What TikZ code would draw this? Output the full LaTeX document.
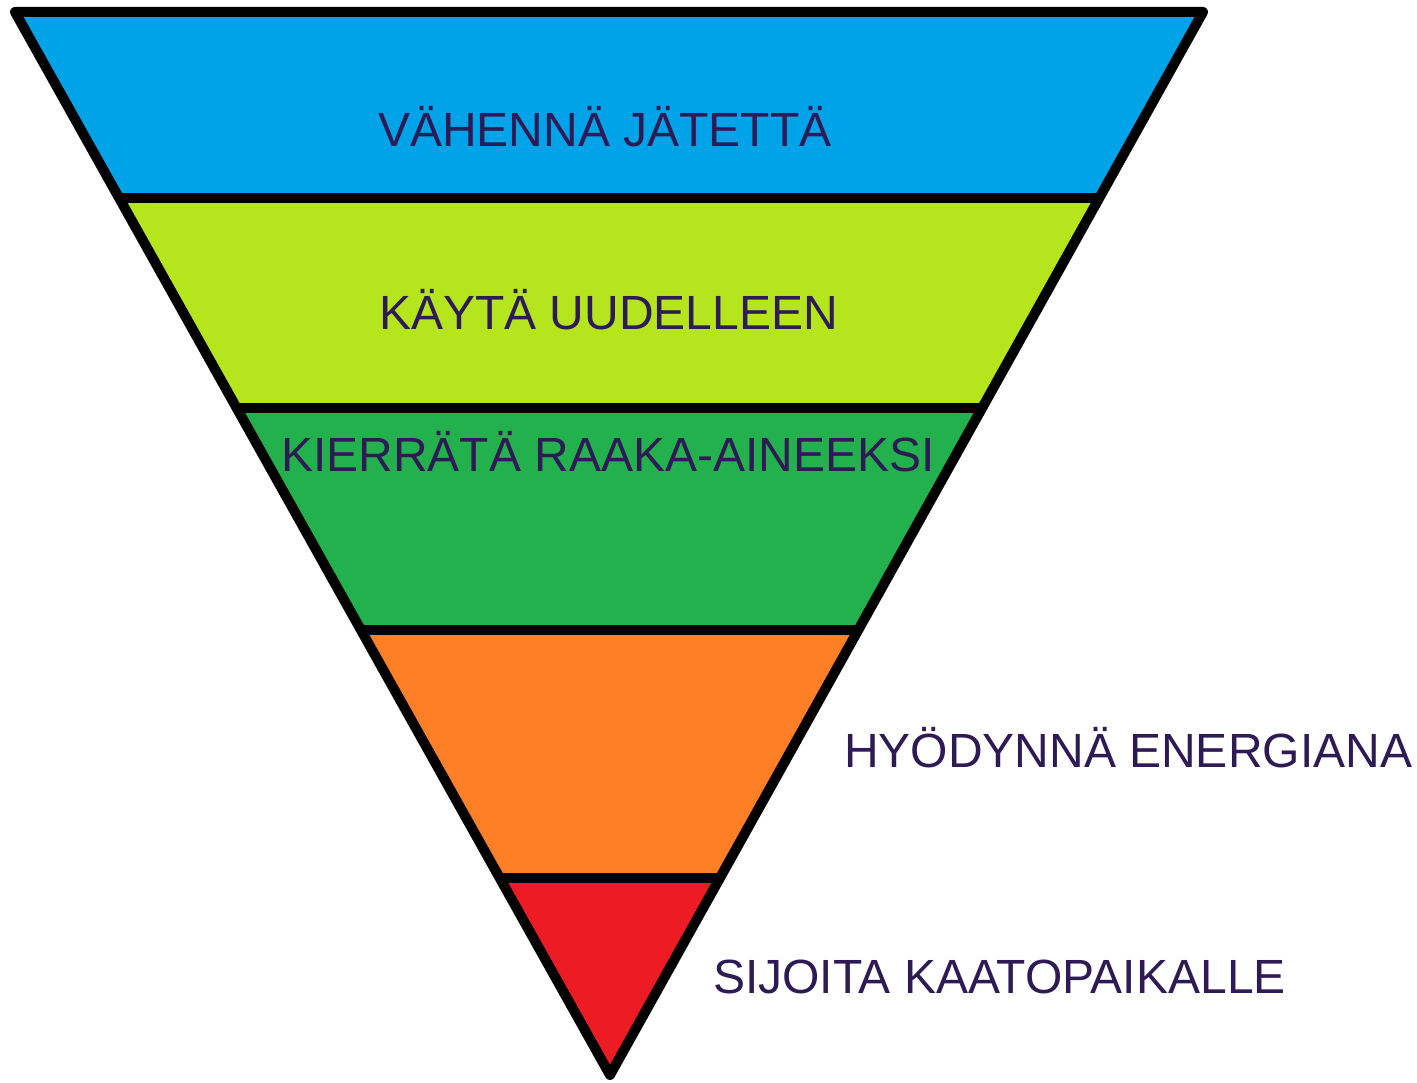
\documentclass[tikz,border=0pt]{standalone}
\usepackage{fontspec}
\setmainfont{Liberation Sans}
\usetikzlibrary{calc}

\definecolor{bandblue}{RGB}{0,162,232}
\definecolor{bandlime}{RGB}{181,230,29}
\definecolor{bandgreen}{RGB}{34,177,76}
\definecolor{bandorange}{RGB}{255,127,39}
\definecolor{bandred}{RGB}{237,28,36}
\definecolor{labelpurple}{RGB}{46,26,85}

\begin{document}
\begin{tikzpicture}[x=1pt,y=-1pt,line width=10pt,line join=round,
    band/.style={draw=black},
    level label/.style={anchor=base west,inner sep=0pt,text=labelpurple,font=\fontsize{48}{55}\selectfont}]

            \useasboundingbox (0,0) rectangle (1417,1083);

            \coordinate (tl) at (15,12);
            \coordinate (tr) at (1203,12);
            \coordinate (apex) at (610,1075);

            % band edges on both sides
            \foreach \y/\n in {198/a,408/b,630/c,878/d}{
                \coordinate (l\n) at ($(tl)!{(\y-12)/1063}!(apex)$);
                \coordinate (r\n) at ($(tr)!{(\y-12)/1063}!(apex)$);
            }

            \fill[bandblue] (tl) -- (tr) -- (ra) -- (la) -- cycle;
            \fill[bandlime] (la) -- (ra) -- (rb) -- (lb) -- cycle;
            \fill[bandgreen] (lb) -- (rb) -- (rc) -- (lc) -- cycle;
            \fill[bandorange] (lc) -- (rc) -- (rd) -- (ld) -- cycle;
            \fill[bandred] (ld) -- (rd) -- (apex) -- cycle;

            \draw[band] (tl) -- (tr) -- (apex) -- cycle;
            \draw[band] (la) -- (ra);
            \draw[band] (lb) -- (rb);
            \draw[band] (lc) -- (rc);
            \draw[band] (ld) -- (rd);

            \node[level label] (reduce) at (373,147) {VÄHENNÄ JÄTETTÄ};
            \node[level label] (reuse) at (374,330) {KÄYTÄ UUDELLEEN};
            \node[level label] (recycle) at (276,471) {KIERRÄTÄ RAAKA-AINEEKSI};
            \node[level label] (energy) at (839,767) {HYÖDYNNÄ ENERGIANA};
            \node[level label] (landfill) at (708,993) {SIJOITA KAATOPAIKALLE};

        \end{tikzpicture}
\end{document}
